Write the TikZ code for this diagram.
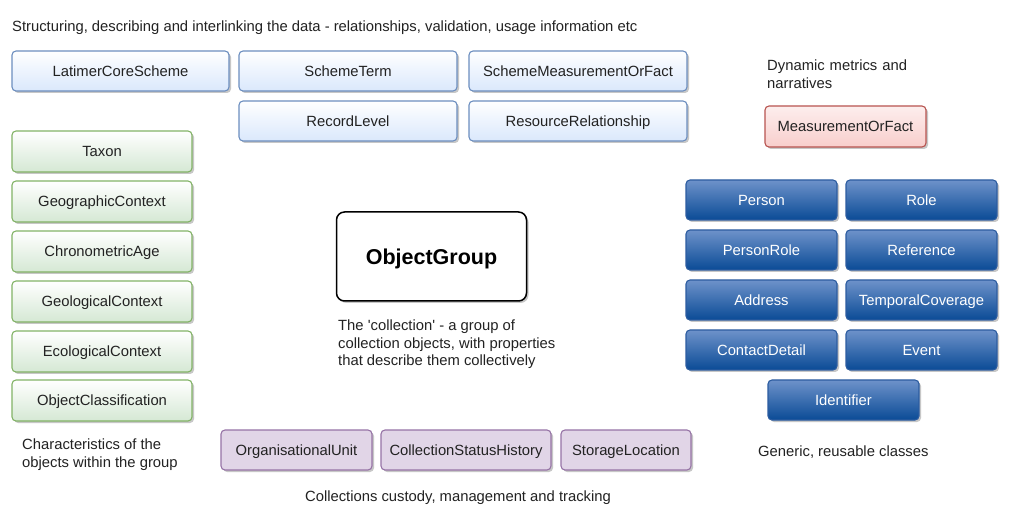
\documentclass[tikz,border=0pt]{standalone}
\usepackage{fontspec}
\setmainfont{Liberation Sans}
\usetikzlibrary{shadows}
\definecolor{lbfill}{HTML}{DAE8FC}
\definecolor{lbdraw}{HTML}{6C8EBF}
\definecolor{gfill}{HTML}{D5E8D4}
\definecolor{gdraw}{HTML}{82B366}
\definecolor{rfill}{HTML}{F8CECC}
\definecolor{rdraw}{HTML}{B85450}
\definecolor{pfill}{HTML}{E1D5E7}
\definecolor{pdraw}{HTML}{9673A6}
\definecolor{dbtop}{HTML}{6E92CA}
\definecolor{dbbot}{HTML}{0A4B96}
\definecolor{dbdraw}{HTML}{2C5CA0}
\definecolor{txt}{HTML}{222222}
\tikzset{
  base/.style={rounded corners=4pt, line width=1.1pt, inner sep=0pt, align=center,
    font=\fontsize{14.8}{17.5}\selectfont, text=txt, text height=10.6pt, text depth=0pt,
    drop shadow={shadow xshift=2pt, shadow yshift=-2pt, fill=black!22, opacity=1}},
  lb/.style={base, draw=lbdraw, top color=white, bottom color=lbfill, minimum width=217, minimum height=40},
  gr/.style={base, draw=gdraw, top color=white, bottom color=gfill, minimum width=180, minimum height=41},
  rd/.style={base, draw=rdraw, top color=rfill!35, bottom color=rfill, minimum width=161, minimum height=41},
  pu/.style={base, draw=pdraw, fill=pfill, minimum height=40},
  db/.style={base, draw=dbdraw, top color=dbtop, bottom color=dbbot, text=white, minimum width=151, minimum height=40},
  lab/.style={font=\fontsize{14.8}{17.5}\selectfont, text=txt, inner sep=0pt, align=left},
}
\begin{document}
\begin{tikzpicture}[x=1pt,y=-1pt]
\path[use as bounding box, fill=white] (0,0) rectangle (1010,521);

\node[lab, anchor=west] (t1) at (12,28) {Structuring, describing and interlinking the data - relationships, validation, usage information etc};

\node[lb] (lcs) at (120.5,71) {LatimerCoreScheme};
\node[lb, minimum width=218] (st) at (348,71) {SchemeTerm};
\node[lb, minimum width=218] (smf) at (578,71) {SchemeMeasurementOrFact};
\node[lb, minimum width=218] (rl) at (348,121) {RecordLevel};
\node[lb, minimum width=218] (rr) at (578,121) {ResourceRelationship};

\node[lab, anchor=north west, text width=200] (t2) at (767,60) {Dynamic metrics and\\narratives};
\node[rd] (mof) at (845.5,126.5) {MeasurementOrFact};

\node[gr] (taxon) at (102,151.5) {Taxon};
\node[gr] (geo) at (102,201.5) {GeographicContext};
\node[gr] (chr) at (102,251.5) {ChronometricAge};
\node[gr] (geol) at (102,301.5) {GeologicalContext};
\node[gr] (eco) at (102,351.5) {EcologicalContext};
\node[gr] (ocl) at (102,400.5) {ObjectClassification};
\node[lab, anchor=north west] (t3) at (22,439) {Characteristics of the\\objects within the group};

\node[base, draw=black, line width=1.5pt, fill=white, rounded corners=8pt, minimum width=190, minimum height=89,
  font=\fontsize{21.5}{25}\selectfont\bfseries, text height=15.5pt, text=black] (og) at (431.5,256.5) {ObjectGroup};
\node[lab, anchor=north west] (t4) at (338,320) {The \textquotesingle collection\textquotesingle{} - a group of\\collection objects, with properties\\that describe them collectively};

\node[db] (person) at (761.5,200) {Person};
\node[db] (role) at (921.5,200) {Role};
\node[db] (prole) at (761.5,250) {PersonRole};
\node[db] (ref) at (921.5,250) {Reference};
\node[db] (addr) at (761.5,300) {Address};
\node[db] (tc) at (921.5,300) {TemporalCoverage};
\node[db] (cd) at (761.5,350) {ContactDetail};
\node[db] (ev) at (921.5,350) {Event};
\node[db] (id) at (843.5,400) {Identifier};
\node[lab, anchor=west] (t5) at (758,452) {Generic, reusable classes};

\node[pu, minimum width=151] (ou) at (296.5,450) {OrganisationalUnit};
\node[pu, minimum width=170] (csh) at (466,450) {CollectionStatusHistory};
\node[pu, minimum width=130] (sl) at (626,450) {StorageLocation};
\node[lab] (t6) at (458,498) {Collections custody, management and tracking};
\end{tikzpicture}
\end{document}
